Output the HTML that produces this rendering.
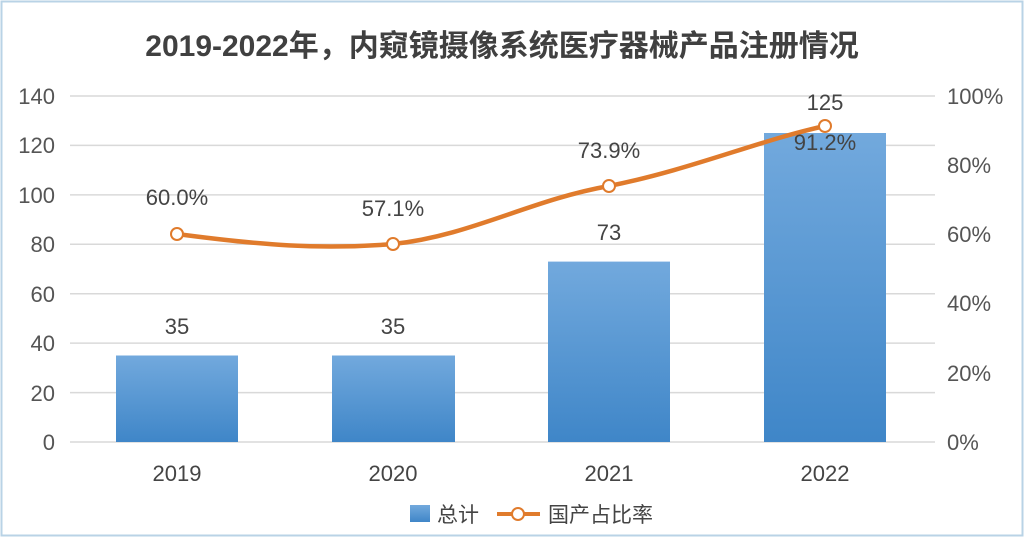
<!DOCTYPE html>
<html><head><meta charset="utf-8"><style>
body{margin:0;background:#fff;}
svg{display:block;font-family:"Liberation Sans","Noto Sans CJK SC",sans-serif;}
</style></head><body>
<svg width="1024" height="537" viewBox="0 0 1024 537">
<defs><linearGradient id="g" x1="0" y1="0" x2="0" y2="1"><stop offset="0" stop-color="#72a9dd"/><stop offset="1" stop-color="#3f86c8"/></linearGradient></defs>
<rect x="1.5" y="1.5" width="1021" height="534" fill="#fff" stroke="#b9d3e6" stroke-width="2"/>
<text x="502" y="56" text-anchor="middle" font-size="30" font-weight="bold" fill="#404040">2019-2022年，内窥镜摄像系统医疗器械产品注册情况</text>
<g stroke="#d9d9d9" stroke-width="1.5">
<line x1="70" y1="96" x2="935" y2="96"/><line x1="70" y1="145.4" x2="935" y2="145.4"/><line x1="70" y1="194.9" x2="935" y2="194.9"/><line x1="70" y1="244.3" x2="935" y2="244.3"/><line x1="70" y1="293.7" x2="935" y2="293.7"/><line x1="70" y1="343.1" x2="935" y2="343.1"/><line x1="70" y1="392.6" x2="935" y2="392.6"/><line x1="70" y1="442" x2="935" y2="442"/>
</g>
<g font-size="22" fill="#555" text-anchor="end">
<text x="55" y="104">140</text><text x="55" y="153">120</text><text x="55" y="203">100</text><text x="55" y="252">80</text><text x="55" y="302">60</text><text x="55" y="351">40</text><text x="55" y="401">20</text><text x="55" y="450">0</text>
</g>
<g font-size="22" fill="#555" text-anchor="start">
<text x="947" y="104">100%</text><text x="947" y="173">80%</text><text x="947" y="242">60%</text><text x="947" y="311">40%</text><text x="947" y="381">20%</text><text x="947" y="450">0%</text>
</g>
<rect x="116" y="355.5" width="122" height="86.5" fill="url(#g)"/>
<rect x="332" y="355.5" width="123" height="86.5" fill="url(#g)"/>
<rect x="548" y="261.6" width="122" height="180.4" fill="url(#g)"/>
<rect x="764" y="133" width="122" height="309" fill="url(#g)"/>
<path d="M177,234 C260,245 320,250 393,244 C470,236 530,200 609,186 C690,170 760,140 825,126" fill="none" stroke="#e07b2c" stroke-width="4.5"/>
<g fill="#fff" stroke="#e07b2c" stroke-width="2"><circle cx="177" cy="234" r="6"/><circle cx="393" cy="244" r="6"/><circle cx="609" cy="186" r="6"/><circle cx="825" cy="126" r="6"/></g>
<g font-size="22" fill="#444" text-anchor="middle">
<text x="177" y="334">35</text><text x="393" y="334">35</text><text x="609" y="240">73</text><text x="825" y="110">125</text>
<text x="177" y="205">60.0%</text><text x="393" y="216">57.1%</text><text x="609" y="158">73.9%</text><text x="825" y="150">91.2%</text>
<text x="177" y="481">2019</text><text x="393" y="481">2020</text><text x="609" y="481">2021</text><text x="825" y="481">2022</text>
</g>
<rect x="410" y="505" width="20" height="17" fill="url(#g)"/>
<text x="437" y="522" font-size="21" fill="#444">总计</text>
<line x1="497" y1="514" x2="540" y2="514" stroke="#e07b2c" stroke-width="4"/>
<circle cx="518" cy="514" r="6" fill="#fff" stroke="#e07b2c" stroke-width="2"/>
<text x="548" y="522" font-size="21" fill="#444">国产占比率</text>
</svg>
</body></html>
